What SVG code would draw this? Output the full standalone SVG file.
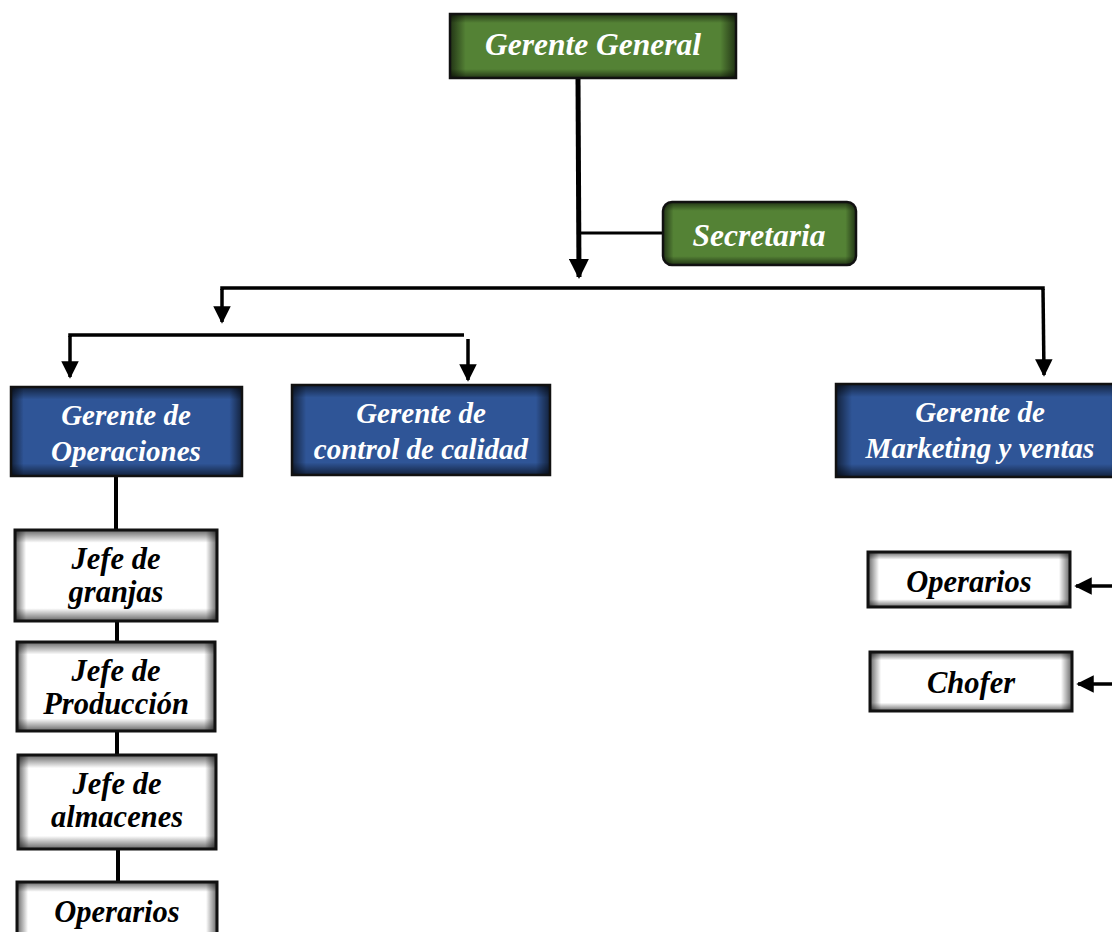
<svg xmlns="http://www.w3.org/2000/svg" width="1112" height="932" viewBox="0 0 1112 932">
<style>
text{font-family:"Liberation Serif","Times New Roman",serif;font-weight:bold;font-style:italic;text-anchor:middle}
.lt{fill:#fff;font-size:29px}
.gt{fill:#fff;font-size:31.5px}
.dt{fill:#000;font-size:30.5px}
.green{fill:#548235}
.blue{fill:#2F5597}
.white{fill:#fff}
.sh{fill:url(#hg)}
.sv{fill:url(#vg)}
.ol{fill:none;stroke:#111;stroke-width:2.5}
.olw{fill:none;stroke:#111;stroke-width:3}
.ln{stroke:#000;fill:none}
</style>
<defs>
<linearGradient id="hg" x1="0" y1="0" x2="1" y2="0">
<stop offset="0" stop-color="#000" stop-opacity="0.6"/>
<stop offset="0.055" stop-color="#000" stop-opacity="0"/>
<stop offset="0.945" stop-color="#000" stop-opacity="0"/>
<stop offset="1" stop-color="#000" stop-opacity="0.6"/>
</linearGradient>
<linearGradient id="vg" x1="0" y1="0" x2="0" y2="1">
<stop offset="0" stop-color="#000" stop-opacity="0.6"/>
<stop offset="0.14" stop-color="#000" stop-opacity="0"/>
<stop offset="0.86" stop-color="#000" stop-opacity="0"/>
<stop offset="1" stop-color="#000" stop-opacity="0.6"/>
</linearGradient>
<marker id="ah" viewBox="0 0 10 10" refX="9" refY="5" markerWidth="4" markerHeight="4" orient="auto" markerUnits="strokeWidth">
<path d="M0,0 L10,5 L0,10 Z" fill="#000"/>
</marker>
<marker id="ah2" viewBox="0 0 10 10" refX="9" refY="5" markerWidth="5" markerHeight="5" orient="auto" markerUnits="strokeWidth">
<path d="M0,0 L10,5 L0,10 Z" fill="#000"/>
</marker>
</defs>
<g id="connectors">
<line class="ln" x1="578" y1="78" x2="579" y2="277" stroke-width="5" marker-end="url(#ah)"/>
<line class="ln" x1="580" y1="233" x2="664" y2="233" stroke-width="3"/>
<polyline class="ln" points="222,290 222,288 1043,288 1043,290" stroke-width="3.5"/>
<line class="ln" x1="222" y1="289" x2="222" y2="322" stroke-width="3.5" marker-end="url(#ah2)"/>
<line class="ln" x1="1043" y1="289" x2="1044" y2="375" stroke-width="3.5" marker-end="url(#ah2)"/>
<polyline class="ln" points="70,337 70,335 464,335" stroke-width="3.5"/>
<line class="ln" x1="70" y1="336" x2="70" y2="377" stroke-width="3.5" marker-end="url(#ah2)"/>
<line class="ln" x1="468" y1="339" x2="468" y2="380" stroke-width="3.5" marker-end="url(#ah2)"/>
<line class="ln" x1="116" y1="476" x2="116" y2="530" stroke-width="4"/>
<line class="ln" x1="117" y1="621" x2="117" y2="642" stroke-width="4"/>
<line class="ln" x1="117" y1="731" x2="117" y2="755" stroke-width="4"/>
<line class="ln" x1="118" y1="849" x2="118" y2="882" stroke-width="4"/>
<line class="ln" x1="1112" y1="586" x2="1076" y2="586" stroke-width="3.5" marker-end="url(#ah2)"/>
<line class="ln" x1="1112" y1="684" x2="1078" y2="684" stroke-width="3.5" marker-end="url(#ah2)"/>
</g>
<g id="gerente-general">
<rect class="green" x="450" y="14" width="286" height="64"/>
<rect class="sh" x="450" y="14" width="286" height="64"/>
<rect class="sv" x="450" y="14" width="286" height="64"/>
<rect class="ol" x="450" y="14" width="286" height="64"/>
<text class="gt" x="593" y="55">Gerente General</text>
</g>
<g id="secretaria">
<rect class="green" x="663" y="202" width="193" height="63" rx="9"/>
<rect class="sh" x="663" y="202" width="193" height="63" rx="9"/>
<rect class="sv" x="663" y="202" width="193" height="63" rx="9"/>
<rect class="ol" x="663" y="202" width="193" height="63" rx="9"/>
<text class="gt" x="759" y="246">Secretaria</text>
</g>
<g id="gerente-operaciones">
<rect class="blue" x="11" y="387" width="231" height="89"/>
<rect class="sh" x="11" y="387" width="231" height="89"/>
<rect class="sv" x="11" y="387" width="231" height="89"/>
<rect class="ol" x="11" y="387" width="231" height="89"/>
<text class="lt" x="126" y="425">Gerente de</text>
<text class="lt" x="126" y="461">Operaciones</text>
</g>
<g id="gerente-calidad">
<rect class="blue" x="292" y="385" width="258" height="90"/>
<rect class="sh" x="292" y="385" width="258" height="90"/>
<rect class="sv" x="292" y="385" width="258" height="90"/>
<rect class="ol" x="292" y="385" width="258" height="90"/>
<text class="lt" x="421" y="423">Gerente de</text>
<text class="lt" x="421" y="459">control de calidad</text>
</g>
<g id="gerente-marketing">
<rect class="blue" x="836" y="384" width="290" height="93"/>
<rect class="sh" x="836" y="384" width="290" height="93"/>
<rect class="sv" x="836" y="384" width="290" height="93"/>
<rect class="ol" x="836" y="384" width="290" height="93"/>
<text class="lt" x="980" y="422">Gerente de</text>
<text class="lt" x="980" y="458">Marketing y ventas</text>
</g>
<g id="jefe-granjas">
<rect class="white" x="15" y="530" width="202" height="91"/>
<rect class="sh" x="15" y="530" width="202" height="91"/>
<rect class="sv" x="15" y="530" width="202" height="91"/>
<rect class="olw" x="15" y="530" width="202" height="91"/>
<text class="dt" x="116" y="569">Jefe de</text>
<text class="dt" x="116" y="602">granjas</text>
</g>
<g id="jefe-produccion">
<rect class="white" x="17" y="642" width="198" height="89"/>
<rect class="sh" x="17" y="642" width="198" height="89"/>
<rect class="sv" x="17" y="642" width="198" height="89"/>
<rect class="olw" x="17" y="642" width="198" height="89"/>
<text class="dt" x="116" y="681">Jefe de</text>
<text class="dt" x="116" y="714">Producción</text>
</g>
<g id="jefe-almacenes">
<rect class="white" x="18" y="755" width="198" height="94"/>
<rect class="sh" x="18" y="755" width="198" height="94"/>
<rect class="sv" x="18" y="755" width="198" height="94"/>
<rect class="olw" x="18" y="755" width="198" height="94"/>
<text class="dt" x="117" y="794">Jefe de</text>
<text class="dt" x="117" y="827">almacenes</text>
</g>
<g id="operarios-1">
<rect class="white" x="17" y="882" width="200" height="70"/>
<rect class="sh" x="17" y="882" width="200" height="70"/>
<rect class="sv" x="17" y="882" width="200" height="70"/>
<rect class="olw" x="17" y="882" width="200" height="70"/>
<text class="dt" x="117" y="922">Operarios</text>
</g>
<g id="operarios-2">
<rect class="white" x="868" y="552" width="202" height="55"/>
<rect class="sh" x="868" y="552" width="202" height="55"/>
<rect class="sv" x="868" y="552" width="202" height="55"/>
<rect class="olw" x="868" y="552" width="202" height="55"/>
<text class="dt" x="969" y="592">Operarios</text>
</g>
<g id="chofer">
<rect class="white" x="870" y="652" width="202" height="59"/>
<rect class="sh" x="870" y="652" width="202" height="59"/>
<rect class="sv" x="870" y="652" width="202" height="59"/>
<rect class="olw" x="870" y="652" width="202" height="59"/>
<text class="dt" x="971" y="693">Chofer</text>
</g>
</svg>
